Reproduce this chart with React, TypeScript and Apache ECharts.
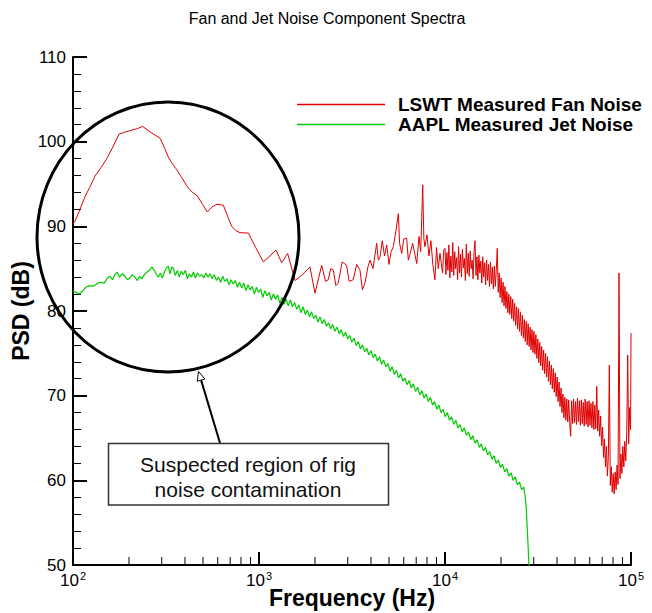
import React, { useEffect, useRef } from "react";
import * as echarts from "echarts";

const chartTitle = "Fan and Jet Noise Component Spectra";
const fanName = "LSWT Measured Fan Noise";
const jetName = "AAPL Measured Jet Noise";
const xAxisName = "Frequency (Hz)";
const yAxisName = "PSD (dB)";
const noteLines = ["Suspected region of rig", "noise contamination"];

const minorFreqs = [
  200, 300, 400, 500, 600, 700, 800, 900,
  2000, 3000, 4000, 5000, 6000, 7000, 8000, 9000,
  20000, 30000, 40000, 50000, 60000, 70000, 80000, 90000,
];

// LSWT measured fan noise: [frequency Hz, PSD dB]
const fanLow: number[][] = [
  [100, 90.3], [102.5, 90.6], [109, 92.0], [116, 93.5], [123, 94.6], [131, 95.9],
  [141, 96.9], [152, 98.0], [164, 99.4], [177, 100.9], [189, 101.1], [202, 101.3],
  [219, 101.5], [237, 101.8], [262, 101.1], [294, 100.4], [310, 99.3], [325, 98.2],
  [342, 97.4], [361, 96.7], [388, 95.6], [417, 94.5], [440, 94.0], [466, 93.6],
  [497, 92.6], [527, 91.7], [560, 92.3], [593, 92.6], [643, 92.5], [678, 91.2],
  [713, 90.0], [750, 89.5], [790, 89.25], [877, 89.2], [960, 87.5], [1055, 85.8],
  [1146, 86.5], [1234, 87.2], [1324, 85.7], [1426, 86.8], [1562, 83.6],
];
const fanMid: number[][] = [
  [1650, 84.0], [1750, 84.5], [1879, 85.2], [2000, 82.1], [2173, 85.4], [2280, 83.5],
  [2358, 83.7], [2430, 85.0], [2508, 84.85], [2590, 83.0], [2668, 83.3], [2800, 85.8],
  [2958, 85.4], [3050, 83.5], [3213, 83.7], [3350, 85.5], [3490, 84.85], [3600, 82.5],
  [3714, 83.3], [3850, 85.2], [3951, 86.0], [4100, 85.0], [4293, 88.0], [4380, 86.0],
  [4475, 86.4], [4600, 88.3], [4730, 86.5], [4860, 87.8], [5000, 85.5], [5130, 87.0],
  [5276, 87.6], [5450, 89.5], [5614, 91.5], [5700, 88.0], [5852, 86.8], [6000, 88.5],
  [6223, 88.6], [6350, 86.0], [6500, 86.8], [6700, 88.0], [7050, 85.6], [7250, 88.8],
  [7400, 87.0], [7590, 94.9], [7700, 88.5], [7800, 87.6], [8000, 89.0], [8200, 86.5],
  [8400, 88.3], [8600, 85.5], [8830, 83.7], [9000, 87.5], [9200, 85.0], [9400, 86.8],
  [9700, 84.5], [9850, 87.2],
];
const fanHigh: number[][] = [
  [10000, 87.4], [10120, 84.3], [10240, 86.9], [10370, 84.8], [10490, 87.8], [10620, 83.9],
  [10750, 86.5], [10880, 84.6], [11010, 88.1], [11140, 84.2], [11280, 87.0], [11410, 85.0],
  [11550, 86.3], [11690, 83.7], [11830, 87.6], [11970, 84.5], [12120, 86.7], [12260, 84.0],
  [12410, 87.3], [12560, 85.1], [12710, 86.2], [12870, 83.6], [13020, 87.9], [13180, 84.4],
  [13340, 86.8], [13500, 84.1], [13660, 87.1], [13820, 85.0], [13990, 86.0], [14160, 83.8],
  [14330, 86.9], [14500, 88.3], [14680, 84.2], [14850, 86.4], [15030, 83.7], [15210, 86.6],
  [15400, 84.5], [15580, 85.9], [15770, 83.3], [15960, 86.4], [16150, 84.0], [16350, 85.7],
  [16540, 83.1], [16740, 86.0], [16940, 83.6], [17150, 85.5], [17350, 82.9], [17560, 85.8],
  [17770, 83.2], [17990, 85.2], [18200, 82.6], [18420, 85.3], [18640, 82.9], [18870, 84.8],
  [19100, 87.4], [19330, 82.2], [19560, 84.5], [19790, 81.6], [20030, 83.9], [20270, 81.0],
  [20520, 83.4], [20760, 80.6], [21010, 82.9], [21270, 80.3], [21520, 82.3], [21780, 79.8],
  [22040, 82.0], [22310, 79.6], [22580, 81.7], [22850, 79.1], [23120, 81.4], [23400, 78.8],
  [23680, 80.9], [23970, 78.3], [24260, 80.5], [24550, 77.9], [24840, 80.3], [25140, 77.6],
  [25450, 79.9], [25750, 77.1], [26060, 79.5], [26380, 76.8], [26690, 79.0], [27010, 76.4],
  [27340, 78.8], [27670, 76.0], [28000, 78.5], [28340, 75.8], [28680, 78.1], [29020, 75.4],
  [29370, 77.8], [29730, 75.1], [30080, 77.6], [30450, 74.9], [30810, 77.2], [31180, 74.4],
  [31560, 76.7], [31940, 73.9], [32320, 76.3], [32710, 73.5], [33110, 75.8], [33500, 73.0],
  [33910, 75.4], [34310, 72.6], [34730, 75.0], [35140, 72.2], [35570, 74.6], [35990, 71.7],
  [36430, 74.1], [36860, 71.3], [37310, 73.6], [37750, 70.8], [38210, 73.2], [38670, 70.4],
  [39130, 72.7], [39600, 69.9], [40080, 72.2], [40560, 69.3], [41050, 71.6], [41540, 68.7],
  [42040, 70.9], [42550, 68.0], [43060, 70.2], [43580, 67.4], [44100, 69.8], [44630, 67.1],
  [45170, 69.6], [45710, 66.9], [46260, 69.5], [46820, 66.8], [47390, 65.2], [47960, 69.4],
  [48540, 66.7], [49120, 69.6], [49710, 66.8], [50310, 69.3], [50920, 66.6], [51530, 69.7],
  [52150, 66.9], [52780, 69.4], [53410, 66.5], [54060, 69.5], [54710, 66.7], [55370, 69.2],
  [56030, 66.4], [56700, 69.6], [57390, 66.6], [58080, 69.3], [58770, 66.3], [59480, 69.4],
  [60200, 66.5], [60920, 69.1], [61650, 66.2], [62400, 69.3], [63150, 66.0], [63910, 68.9],
  [64680, 66.1], [65460, 71.1], [66240, 65.8], [67040, 68.3], [67850, 65.2], [68670, 67.6],
  [69490, 64.1], [70330, 66.3], [71180, 62.7], [72030, 64.9], [72900, 61.6], [73780, 64.0],
  [74670, 60.5], [75570, 62.8], [76480, 73.6], [77400, 59.4], [78330, 61.6], [79270, 58.6],
  [80230, 60.8], [81190, 58.4], [82170, 61.0], [83160, 58.9], [84160, 61.8], [85170, 59.5],
  [86200, 84.5], [87240, 60.2], [88290, 63.1], [89350, 60.8], [90420, 64.0], [91510, 61.6],
  [92620, 64.6], [93730, 62.3], [94860, 65.8], [96000, 74.8], [97160, 64.3], [98330, 68.6],
  [99510, 66.0], [100000, 77.4],
];

// AAPL measured jet noise: [frequency Hz, PSD dB]
const jetLow: number[][] = [
  [100, 82.4], [104, 82.2], [108, 82.0], [112, 82.3], [117, 82.8], [123, 83.0], [128, 82.9],
  [134, 83.2], [140, 83.4], [147, 83.3], [153, 83.9], [158, 84.1], [163, 83.7], [168, 84.3],
  [173, 84.6], [178, 84.0], [184, 84.4], [190, 84.1], [196, 83.7], [202, 83.9], [208, 84.3],
  [215, 84.0], [222, 83.6], [228, 84.1], [234, 83.8], [242, 84.3], [250, 84.6], [258, 84.8],
  [265, 85.2], [272, 84.9], [280, 84.4], [288, 84.0], [295, 84.5], [302, 83.9], [310, 84.6],
  [318, 85.1], [325, 85.3], [332, 84.4], [340, 85.2], [347, 85.0], [355, 84.2], [364, 84.8],
  [372, 84.0], [382, 84.7], [392, 84.3], [402, 84.8], [412, 83.8], [422, 84.4], [433, 84.0],
  [444, 84.6], [455, 83.9], [467, 84.5], [480, 84.1], [492, 84.3], [505, 83.9], [518, 84.5],
  [532, 84.0], [546, 84.4], [560, 83.8], [575, 84.3], [590, 83.6], [606, 84.0], [622, 83.4],
  [638, 84.1], [655, 83.5], [672, 83.8], [690, 83.1], [708, 83.7], [727, 83.2], [746, 83.6],
  [766, 82.8], [786, 83.4], [807, 82.7], [828, 83.3], [850, 82.4], [873, 83.1], [896, 82.5],
  [920, 82.9], [944, 82.0], [969, 82.8], [995, 82.2],
];
const jetHigh: number[][] = [
  [1021, 82.6], [1048, 81.6], [1076, 82.4], [1105, 81.8], [1134, 82.2], [1164, 81.3],
  [1195, 82.0], [1227, 81.4], [1260, 81.9], [1293, 80.9], [1328, 81.6], [1363, 80.8],
  [1399, 81.4], [1436, 80.6], [1474, 81.3], [1514, 80.5], [1554, 81.0], [1595, 80.2],
  [1638, 80.7], [1681, 79.8], [1726, 80.5], [1772, 79.6], [1819, 80.1], [1868, 79.3],
  [1917, 79.9], [1968, 79.1], [2021, 79.5], [2074, 78.7], [2130, 79.3], [2186, 78.5],
  [2244, 79.0], [2304, 78.2], [2366, 78.6], [2429, 77.9], [2493, 78.4], [2560, 77.6],
  [2628, 78.1], [2698, 77.3], [2769, 77.8], [2843, 77.0], [2919, 77.5], [2996, 76.7],
  [3076, 77.1], [3158, 76.3], [3242, 76.8], [3328, 75.9], [3417, 76.4], [3508, 75.5],
  [3601, 76.0], [3697, 75.2], [3796, 75.6], [3897, 74.8], [4000, 75.3], [4107, 74.5],
  [4216, 74.9], [4328, 74.1], [4444, 74.6], [4562, 73.7], [4683, 74.2], [4808, 73.4],
  [4936, 73.8], [5067, 72.9], [5202, 73.4], [5341, 72.5], [5483, 73.0], [5629, 72.1],
  [5778, 72.6], [5932, 71.7], [6090, 72.1], [6252, 71.3], [6418, 71.8], [6589, 70.9],
  [6764, 71.4], [6944, 70.5], [7129, 71.0], [7319, 70.1], [7514, 70.6], [7714, 69.7],
  [7919, 70.2], [8130, 69.3], [8346, 69.8], [8568, 68.9], [8796, 69.3], [9030, 68.4],
  [9270, 68.9], [9517, 68.0], [9770, 68.4], [10030, 67.5], [10297, 68.0], [10571, 67.1],
  [10852, 67.5], [11141, 66.6], [11437, 67.1], [11741, 66.2], [12054, 66.6], [12374, 65.7],
  [12703, 66.2], [13041, 65.3], [13388, 65.7], [13744, 64.8], [14110, 65.3], [14485, 64.4],
  [14870, 64.8], [15266, 63.9], [15672, 64.3], [16089, 63.5], [16517, 63.9], [16956, 63.0],
  [17407, 63.4], [17870, 62.5], [18346, 62.9], [18834, 62.0], [19335, 62.4], [19849, 61.5],
  [20377, 61.9], [20919, 61.0], [21476, 61.4], [22047, 60.5], [22634, 60.9], [23236, 60.0],
  [23854, 60.4], [24488, 59.5], [25140, 59.8], [25809, 58.9], [26495, 59.2], [27000, 58.0],
  [27300, 57.0], [27550, 55.3], [27800, 53.5], [28000, 52.0], [28250, 50.0], [28300, 48.0],
];

const FONT = "'Liberation Sans', Arial, Helvetica, sans-serif";

export default function App() {
  const ref = useRef<HTMLDivElement>(null);

  useEffect(() => {
    if (!ref.current) return;
    const chart = echarts.init(ref.current, undefined, { renderer: "svg" });

    // arrow geometry (annotation pointing at the circle)
    const tail = [220, 443];
    const tip = [198.5, 371.5];
    const dx = tip[0] - tail[0];
    const dy = tip[1] - tail[1];
    const len = Math.sqrt(dx * dx + dy * dy);
    const ux = dx / len;
    const uy = dy / len;
    const headLen = 9;
    const headHalf = 4;
    const bx = tip[0] - ux * headLen;
    const by = tip[1] - uy * headLen;
    const px = -uy;
    const py = ux;

    chart.setOption({
      animation: false,
      backgroundColor: "#ffffff",
      title: {
        text: chartTitle,
        left: 322,
        textAlign: "center",
        top: 5,
        textStyle: { fontFamily: FONT, fontSize: 16, fontWeight: "normal", color: "#000" },
      },
      legend: {
        data: [fanName, jetName],
        orient: "vertical",
        left: 292,
        top: 90,
        icon: "rect",
        itemWidth: 88,
        itemHeight: 1.5,
        itemGap: 1,
        textStyle: {
          fontFamily: FONT,
          fontSize: 19,
          fontWeight: "bold",
          color: "#000",
          padding: [0, 0, 0, 8],
        },
      },
      grid: { left: 73, right: 21, top: 57, bottom: 48, outerBoundsMode: "none", containLabel: false },
      xAxis: {
        type: "log",
        logBase: 10,
        min: 100,
        max: 100000,
        name: xAxisName,
        nameLocation: "middle",
        nameGap: 21,
        nameMoveOverlap: false,
        nameTextStyle: { fontFamily: FONT, fontSize: 23, fontWeight: "bold", color: "#000" },
        axisLine: { lineStyle: { color: "#000", width: 2 } },
        axisTick: { inside: true, length: 13, lineStyle: { color: "#000", width: 2 } },
        splitLine: { show: false },
        axisLabel: {
          margin: 5,
          formatter: (v: number) => `{b|10}{s|${Math.round(Math.log10(v))}}`,
          rich: {
            b: { fontFamily: FONT, fontSize: 17, color: "#000", verticalAlign: "bottom", lineHeight: 19 },
            s: { fontFamily: FONT, fontSize: 11, color: "#000", verticalAlign: "top", lineHeight: 11, padding: [0, 0, 0, 1] },
          },
        },
      },
      yAxis: {
        type: "value",
        min: 50,
        max: 110,
        interval: 10,
        name: yAxisName,
        nameLocation: "middle",
        nameGap: 41,
        nameMoveOverlap: false,
        nameTextStyle: { fontFamily: FONT, fontSize: 23, fontWeight: "bold", color: "#000" },
        axisLine: { show: true, lineStyle: { color: "#000", width: 2 } },
        axisTick: { show: true, inside: true, length: 14, lineStyle: { color: "#000", width: 2 } },
        minorTick: { show: true, splitNumber: 5, length: 8, lineStyle: { color: "#000", width: 1 } },
        splitLine: { show: false },
        axisLabel: { margin: 7, fontFamily: FONT, fontSize: 17, color: "#000" },
      },
      series: [
        {
          name: fanName,
          type: "line",
          data: [...fanLow, ...fanMid, ...fanHigh],
          showSymbol: false,
          symbol: "none",
          color: "#e00000",
          lineStyle: { color: "#e00000", width: 1 },
          z: 3,
        },
        {
          name: jetName,
          type: "line",
          data: [...jetLow, ...jetHigh],
          showSymbol: false,
          symbol: "none",
          color: "#00cc00",
          lineStyle: { color: "#00cc00", width: 1.2 },
          z: 2,
        },
        {
          type: "custom",
          silent: true,
          z: 5,
          data: minorFreqs.map((f) => [f, 50]),
          renderItem: (_params: any, api: any) => {
            const p = api.coord([api.value(0), api.value(1)]);
            return {
              type: "line",
              shape: { x1: p[0], y1: p[1], x2: p[0], y2: p[1] - 8 },
              style: { stroke: "#000", lineWidth: 1 },
            };
          },
        },
      ],
      graphic: [
        {
          type: "ellipse",
          z: 100,
          silent: true,
          shape: { cx: 168, cy: 237, rx: 131, ry: 135 },
          style: { fill: "none", stroke: "#000", lineWidth: 3 },
        },
        {
          type: "line",
          z: 100,
          silent: true,
          shape: { x1: tail[0], y1: tail[1], x2: bx, y2: by },
          style: { stroke: "#000", lineWidth: 2 },
        },
        {
          type: "polygon",
          z: 101,
          silent: true,
          shape: {
            points: [
              [tip[0], tip[1]],
              [bx + px * headHalf, by + py * headHalf],
              [bx - px * headHalf, by - py * headHalf],
            ],
          },
          style: { fill: "#fff", stroke: "#000", lineWidth: 1 },
        },
        {
          type: "rect",
          z: 100,
          silent: true,
          shape: { x: 108.5, y: 443.5, width: 280, height: 61.5 },
          style: { fill: "#fff", stroke: "#333", lineWidth: 1.5 },
        },
        {
          type: "text",
          z: 101,
          silent: true,
          x: 248,
          y: 464,
          style: {
            text: noteLines[0],
            fontFamily: FONT,
            fontSize: 21,
            fill: "#111",
            align: "center",
            verticalAlign: "middle",
          },
        },
        {
          type: "text",
          z: 101,
          silent: true,
          x: 248,
          y: 489,
          style: {
            text: noteLines[1],
            fontFamily: FONT,
            fontSize: 21,
            fill: "#111",
            align: "center",
            verticalAlign: "middle",
          },
        },
      ],
    });

    return () => chart.dispose();
  }, []);

  return (
    <div
      ref={ref}
      style={{ position: "fixed", left: 0, top: 0, width: 652, height: 613 }}
    />
  );
}
